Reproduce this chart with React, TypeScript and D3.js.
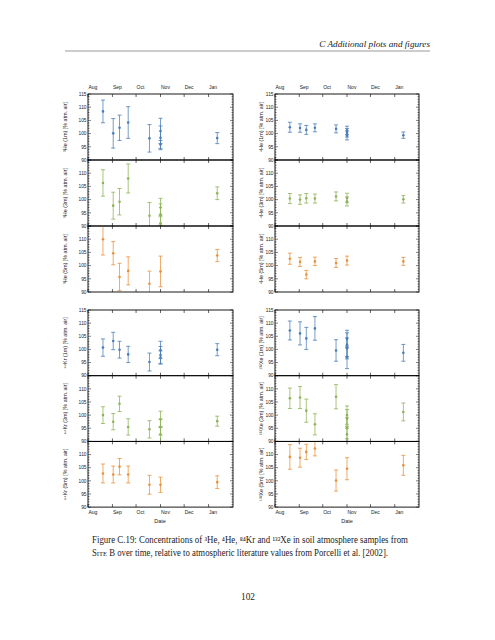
import React from 'react';
import * as d3 from 'd3';

// ---------- data ----------
const monthLabels = ['Aug', 'Sep', 'Oct', 'Nov', 'Dec', 'Jan'];
const monthStarts = ['2013-08-01', '2013-09-01', '2013-10-01', '2013-11-01', '2013-12-01', '2014-01-01'];
const xDomain = ['2013-08-01', '2014-02-01'];
const yTicks = [90, 95, 100, 105, 110, 115];

type Obs = [string, number, number]; // date, value, error

const he3_1m: Obs[] = [
  ['2013-08-20', 108.4, 4.3], ['2013-09-02', 100.1, 5.6], ['2013-09-10', 102.2, 4.8],
  ['2013-09-21', 104.2, 6.0], ['2013-10-18', 98.2, 5.2], ['2013-11-01', 101.0, 4.8],
  ['2013-11-01', 98.4, 4.5], ['2013-11-01', 95.9, 1.5], ['2014-01-12', 98.3, 2.1],
];
const he3_3m: Obs[] = [
  ['2013-08-20', 106.3, 5.0], ['2013-09-02', 97.7, 5.1], ['2013-09-10', 99.2, 5.0],
  ['2013-09-21', 108.0, 5.5], ['2013-10-18', 93.9, 5.0], ['2013-11-01', 97.0, 3.5],
  ['2013-11-01', 94.4, 4.0], ['2013-11-01', 91.0, 3.0], ['2014-01-12', 102.4, 2.4],
];
const he3_5m: Obs[] = [
  ['2013-08-20', 110.0, 6.0], ['2013-09-02', 104.7, 4.4], ['2013-09-10', 95.7, 5.2],
  ['2013-09-21', 98.0, 5.3], ['2013-10-18', 93.1, 4.8], ['2013-11-01', 97.8, 5.8],
  ['2014-01-12', 103.8, 2.3],
];
const he4_1m: Obs[] = [
  ['2013-08-20', 102.4, 1.9], ['2013-09-02', 102.1, 1.6], ['2013-09-10', 101.4, 1.7],
  ['2013-09-21', 102.2, 1.5], ['2013-10-18', 101.8, 1.5], ['2013-11-01', 101.2, 1.6],
  ['2013-11-01', 100.3, 1.6], ['2013-11-01', 99.3, 1.7], ['2014-01-12', 99.4, 1.2],
];
const he4_3m: Obs[] = [
  ['2013-08-20', 100.4, 1.9], ['2013-09-02', 100.0, 1.8], ['2013-09-10', 100.5, 1.8],
  ['2013-09-21', 100.4, 1.7], ['2013-10-18', 101.2, 1.7], ['2013-11-01', 100.6, 1.8],
  ['2013-11-01', 99.3, 1.7], ['2014-01-12', 100.1, 1.4],
];
const he4_5m: Obs[] = [
  ['2013-08-20', 102.6, 2.1], ['2013-09-02', 101.4, 1.7], ['2013-09-10', 96.6, 1.6],
  ['2013-09-21', 101.6, 1.6], ['2013-10-18', 101.0, 1.7], ['2013-11-01', 101.9, 1.7],
  ['2014-01-12', 101.6, 1.5],
];
const kr84_1m: Obs[] = [
  ['2013-08-20', 100.7, 3.3], ['2013-09-02', 103.2, 3.3], ['2013-09-10', 99.9, 3.2],
  ['2013-09-21', 98.1, 3.1], ['2013-10-18', 95.2, 3.4], ['2013-11-01', 99.8, 3.3],
  ['2013-11-01', 97.9, 3.2], ['2013-11-01', 96.9, 2.5], ['2014-01-12', 99.9, 2.3],
];
const kr84_3m: Obs[] = [
  ['2013-08-20', 100.0, 3.2], ['2013-09-02', 97.5, 3.1], ['2013-09-10', 104.3, 2.9],
  ['2013-09-21', 95.5, 3.1], ['2013-10-18', 94.6, 3.3], ['2013-11-01', 98.4, 3.1],
  ['2013-11-01', 95.4, 3.0], ['2013-11-01', 92.7, 3.0], ['2014-01-12', 97.7, 1.9],
];
const kr84_5m: Obs[] = [
  ['2013-08-20', 102.8, 3.6], ['2013-09-02', 102.4, 3.2], ['2013-09-10', 105.4, 3.1],
  ['2013-09-21', 102.4, 3.2], ['2013-10-18', 98.5, 3.6], ['2013-11-01', 98.5, 2.9],
  ['2014-01-12', 99.5, 2.4],
];
const xe132_1m: Obs[] = [
  ['2013-08-20', 107.2, 3.6], ['2013-09-02', 106.1, 4.4], ['2013-09-10', 104.2, 4.2],
  ['2013-09-21', 108.0, 4.5], ['2013-10-18', 99.6, 4.1], ['2013-11-01', 104.0, 3.3],
  ['2013-11-01', 101.8, 4.5], ['2013-11-01', 100.4, 4.0], ['2013-11-01', 97.0, 4.3],
  ['2014-01-12', 98.7, 3.2],
];
const xe132_3m: Obs[] = [
  ['2013-08-20', 106.4, 3.9], ['2013-09-02', 106.7, 4.2], ['2013-09-10', 101.7, 4.4],
  ['2013-09-21', 96.5, 4.0], ['2013-10-18', 107.0, 4.6], ['2013-11-01', 100.0, 3.5],
  ['2013-11-01', 98.6, 3.5], ['2013-11-01', 95.0, 4.0], ['2013-11-01', 92.7, 3.0],
  ['2014-01-12', 101.2, 3.4],
];
const xe132_5m: Obs[] = [
  ['2013-08-20', 109.1, 4.7], ['2013-09-02', 108.8, 3.6], ['2013-09-10', 111.0, 2.9],
  ['2013-09-21', 112.3, 2.8], ['2013-10-18', 100.1, 4.0], ['2013-11-01', 104.6, 4.2],
  ['2014-01-12', 105.9, 3.8],
];

const depthLabels = ['1m', '3m', '5m'];
const depthColors = ['#4a7eb6', '#8cb356', '#e8903a'];

// ---------- layout ----------
const W = 495;
const H = 640;
const parse = d3.timeParse('%Y-%m-%d');

const columns = [
  { x0: 88, x1: 233, labelOff: 21, dateX: 160 },
  { x0: 275, x1: 419, labelOff: 12, dateX: 347 },
];
const rows = [
  { top: 94, ph: 66, topMonths: true, bottomMonths: false },
  { top: 310, ph: 65.7, topMonths: false, bottomMonths: true },
];

const groups = [
  { col: 0, row: 0, iso: '³He', series: [he3_1m, he3_3m, he3_5m] },
  { col: 1, row: 0, iso: '⁴He', series: [he4_1m, he4_3m, he4_5m] },
  { col: 0, row: 1, iso: '⁸⁴Kr', series: [kr84_1m, kr84_3m, kr84_5m] },
  { col: 1, row: 1, iso: '¹³²Xe', series: [xe132_1m, xe132_3m, xe132_5m] },
];

const axisFont = 'Liberation Sans, Arial, sans-serif';

function Panel({ id, x0, x1, y0, y1, data, color, label, labelOff, first, showTop, showBottom }: any) {
  const x = d3.scaleTime().domain(xDomain.map((d) => parse(d) as Date)).range([x0, x1]);
  const y = d3.scaleLinear().domain([90, 115]).range([y1, y0]);
  const minor = d3.range(90, 116, 1);
  const ticksX = monthStarts.map((d) => x(parse(d) as Date));
  return (
    <g>
      <defs>
        <clipPath id={id}>
          <rect x={x0} y={y0} width={x1 - x0} height={y1 - y0} />
        </clipPath>
      </defs>
      {minor.map((v) => {
        const major = v % 5 === 0;
        const len = major ? 3 : 1.5;
        return (
          <g key={'m' + v} stroke="#000" strokeWidth={0.5}>
            <line x1={x0} x2={x0 + len} y1={y(v)} y2={y(v)} />
            <line x1={x1} x2={x1 - len} y1={y(v)} y2={y(v)} />
          </g>
        );
      })}
      {ticksX.map((tx, i) => (
        <g key={'xt' + i} stroke="#000" strokeWidth={0.6}>
          <line x1={tx} x2={tx} y1={y0} y2={y0 + 3} />
          <line x1={tx} x2={tx} y1={y1} y2={y1 - 3} />
        </g>
      ))}
      {yTicks
        .filter((v) => v < 115 || first)
        .map((v) => (
          <text key={'yl' + v} x={x0 - 1.5} y={y(v) + 1.7} fontSize={4.8} textAnchor="end" fontFamily={axisFont} fill="#222">
            {v}
          </text>
        ))}
      <g clipPath={`url(#${id})`}>
        {data.map((o: Obs, i: number) => {
          const cx = x(parse(o[0]) as Date);
          const cy = y(o[1]);
          const ya = y(o[1] + o[2]);
          const yb = y(o[1] - o[2]);
          return (
            <g key={i}>
              <line x1={cx} x2={cx} y1={ya} y2={yb} stroke={color} strokeWidth={1} strokeOpacity={0.75} />
              <line x1={cx - 2} x2={cx + 2} y1={ya} y2={ya} stroke={color} strokeWidth={0.8} />
              <line x1={cx - 2} x2={cx + 2} y1={yb} y2={yb} stroke={color} strokeWidth={0.8} />
              <circle cx={cx} cy={cy} r={1.3} fill={color} />
            </g>
          );
        })}
      </g>
      <rect x={x0} y={y0} width={x1 - x0} height={y1 - y0} fill="none" stroke="#000" strokeWidth={0.9} />
      <text
        transform={`translate(${x0 - labelOff},${(y0 + y1) / 2}) rotate(-90)`}
        fontSize={5.4}
        textAnchor="middle"
        fontFamily={axisFont}
        fill="#222"
      >
        {label}
      </text>
      {showTop &&
        ticksX.map((tx, i) => (
          <text key={'tm' + i} x={tx + 0.5} y={y0 - 5} fontSize={5} fontFamily={axisFont} fill="#222">
            {monthLabels[i]}
          </text>
        ))}
      {showBottom &&
        ticksX.map((tx, i) => (
          <text key={'bm' + i} x={tx + 0.5} y={y1 + 7} fontSize={5} fontFamily={axisFont} fill="#222">
            {monthLabels[i]}
          </text>
        ))}
    </g>
  );
}

export default function App() {
  return (
    <svg width={W} height={H} style={{ position: 'absolute', left: 0, top: 0, background: '#fff' }}>
      <rect x={0} y={0} width={W} height={H} fill="#fff" />
      <text x={430} y={47} textAnchor="end" fontSize={9.2} fontStyle="italic" fontFamily="Liberation Serif, serif" fill="#222">
        C Additional plots and figures
      </text>
      <line x1={65} x2={430} y1={51} y2={51} stroke="#333" strokeWidth={0.5} />

      {groups.map((g, gi) => {
        const c = columns[g.col];
        const r = rows[g.row];
        return (
          <g key={gi}>
            {g.series.map((s, si) => {
              const y0 = r.top + si * r.ph;
              const y1 = y0 + r.ph;
              return (
                <Panel
                  key={si}
                  id={`clip-${gi}-${si}`}
                  x0={c.x0}
                  x1={c.x1}
                  y0={y0}
                  y1={y1}
                  data={s}
                  color={depthColors[si]}
                  label={`${g.iso} (${depthLabels[si]}) [% atm. air]`}
                  labelOff={c.labelOff}
                  first={si === 0}
                  showTop={r.topMonths && si === 0}
                  showBottom={r.bottomMonths && si === 2}
                />
              );
            })}
            {r.bottomMonths && (
              <text x={c.dateX} y={r.top + 3 * r.ph + 16} fontSize={5.5} textAnchor="middle" fontFamily={axisFont} fill="#222">
                Date
              </text>
            )}
          </g>
        );
      })}

      <text x={92} y={543} fontSize={9.3} fontFamily="Liberation Serif, serif" fill="#222" textLength={316} lengthAdjust="spacingAndGlyphs">
        Figure C.19: Concentrations of ³He, ⁴He, ⁸⁴Kr and ¹³²Xe in soil atmosphere samples from
      </text>
      <text x={92} y={556} fontSize={9.3} fontFamily="Liberation Serif, serif" fill="#222" textLength={296} lengthAdjust="spacingAndGlyphs">
        <tspan>S</tspan>
        <tspan fontSize={7}>ITE</tspan>
        <tspan> B over time, relative to atmospheric literature values from Porcelli et al. [2002].</tspan>
      </text>
      <text x={248} y={600} fontSize={9.3} textAnchor="middle" fontFamily="Liberation Serif, serif" fill="#222">
        102
      </text>
    </svg>
  );
}
